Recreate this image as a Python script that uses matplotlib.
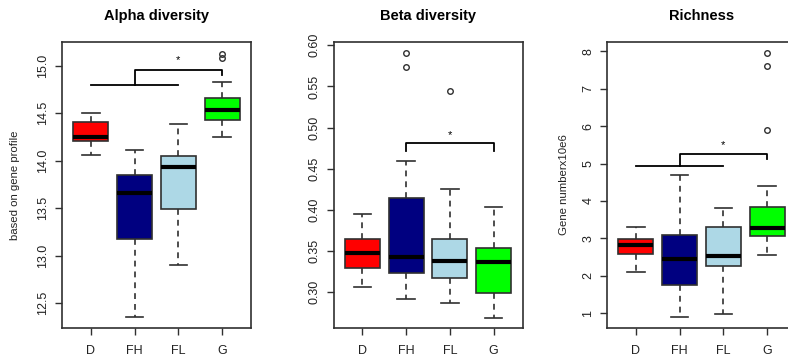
import numpy as np
import matplotlib
matplotlib.use("Agg")
import matplotlib.pyplot as plt

plt.rcParams['font.family'] = ['Liberation Sans', 'DejaVu Sans']

groups = ['D', 'FH', 'FL', 'G']
box_colors = ['#ff0000', '#000080', '#add8e6', '#00ff00']

# five-number summaries: whislo, q1, med, q3, whishi
alpha_stats = [
    [14.06, 14.21, 14.25, 14.41, 14.50],
    [12.36, 13.18, 13.66, 13.85, 14.11],
    [12.90, 13.49, 13.93, 14.05, 14.39],
    [14.25, 14.43, 14.53, 14.66, 14.83],
]
alpha_fliers = [[], [], [], [15.08, 15.12]]

beta_stats = [
    [0.306, 0.330, 0.348, 0.365, 0.395],
    [0.292, 0.323, 0.343, 0.415, 0.459],
    [0.287, 0.317, 0.338, 0.365, 0.425],
    [0.269, 0.299, 0.337, 0.354, 0.404],
]
beta_fliers = [[], [0.574, 0.591], [0.545], []]

rich_stats = [
    [2.10, 2.57, 2.82, 2.98, 3.31],
    [0.90, 1.74, 2.44, 3.09, 4.70],
    [0.98, 2.27, 2.52, 3.30, 3.80],
    [2.54, 3.06, 3.27, 3.84, 4.39],
]
rich_fliers = [[], [], [], [5.89, 7.61, 7.96]]

titles = ['Alpha diversity', 'Beta diversity', 'Richness']
ylabels = ['based on gene profile', '', 'Gene numberx10e6']
ylims = [(12.24, 15.25), (0.2565, 0.604), (0.60, 8.25)]
yticks = [np.arange(12.5, 15.01, 0.5), np.arange(0.30, 0.601, 0.05), np.arange(1, 9)]
ytick_fmt = ['%.1f', '%.2f', '%d']

# significance brackets: (low bar y, top bar y, right drop y, star y) or single bar
alpha_bracket = [14.80, 14.96, 14.90, 15.055]
beta_bracket = [0.481, 0.471, 0.491]
rich_bracket = [4.93, 5.25, 5.11, 5.49]

edge = '#303030'

fig = plt.figure(figsize=(7.88, 3.61), dpi=100)
lefts = [62 / 788, 333.5 / 788, 607 / 788]
w = 189 / 788
bottom = 1 - 328 / 361
h = 286 / 361

all_stats = [alpha_stats, beta_stats, rich_stats]
all_fliers = [alpha_fliers, beta_fliers, rich_fliers]

axes = []
for i in range(3):
    ax = fig.add_axes([lefts[i], bottom, w, h])
    axes.append(ax)
    stats = []
    for g, s, f in zip(groups, all_stats[i], all_fliers[i]):
        stats.append(dict(label=g, whislo=s[0], q1=s[1], med=s[2], q3=s[3],
                          whishi=s[4], fliers=f))
    bp = ax.bxp(stats, positions=[1, 2, 3, 4], widths=0.8, patch_artist=True,
                boxprops=dict(edgecolor=edge, linewidth=1.2),
                medianprops=dict(color='black', linewidth=3, solid_capstyle='butt'),
                whiskerprops=dict(color=edge, linewidth=1.2, linestyle=(0, (3.5, 3))),
                capprops=dict(color=edge, linewidth=1.2),
                flierprops=dict(marker='o', markersize=4, markerfacecolor='none',
                                markeredgecolor=edge, markeredgewidth=1.0),
                capwidths=0.4)
    for patch, c in zip(bp['boxes'], box_colors):
        patch.set_facecolor(c)
    ax.set_xlim(0.34, 4.66)
    ax.set_ylim(*ylims[i])
    ax.set_yticks(yticks[i])
    ax.set_yticklabels([ytick_fmt[i] % v for v in yticks[i]], rotation=90, va='center')
    ax.set_xticks([1, 2, 3, 4])
    ax.set_xticklabels(groups)
    ax.tick_params(axis='both', direction='out', length=5, width=1.0, color=edge,
                   labelsize=9, labelcolor='#222222')
    ax.tick_params(axis='y', pad=4)
    ax.tick_params(axis='x', pad=7)
    for sp in ax.spines.values():
        sp.set_color(edge)
        sp.set_linewidth(1.2)
    ax.set_title(titles[i], fontsize=10.5, fontweight='bold', pad=15.5)
    if ylabels[i]:
        ax.set_ylabel(ylabels[i], fontsize=8.2, color='#222222')

axes[0].yaxis.set_label_coords(-0.22, 0.5)
axes[2].yaxis.set_label_coords(-0.2, 0.5)

lk = dict(color='black', linewidth=1.3)
# alpha: D..FL vs G
a = alpha_bracket
axes[0].plot([1, 3], [a[0], a[0]], **lk)
axes[0].plot([2, 2, 4, 4], [a[0], a[1], a[1], a[2]], **lk)
axes[0].text(3, a[3], '*', ha='center', va='center', fontsize=8)
# beta: FH vs G
b = beta_bracket
axes[1].plot([2, 2, 4, 4], [b[1], b[0], b[0], b[1]], **lk)
axes[1].text(3, b[2], '*', ha='center', va='center', fontsize=8)
# richness: D..FL vs G
r = rich_bracket
axes[2].plot([1, 3], [r[0], r[0]], **lk)
axes[2].plot([2, 2, 4, 4], [r[0], r[1], r[1], r[2]], **lk)
axes[2].text(3, r[3], '*', ha='center', va='center', fontsize=8)

fig.savefig('out.png', dpi=100)
